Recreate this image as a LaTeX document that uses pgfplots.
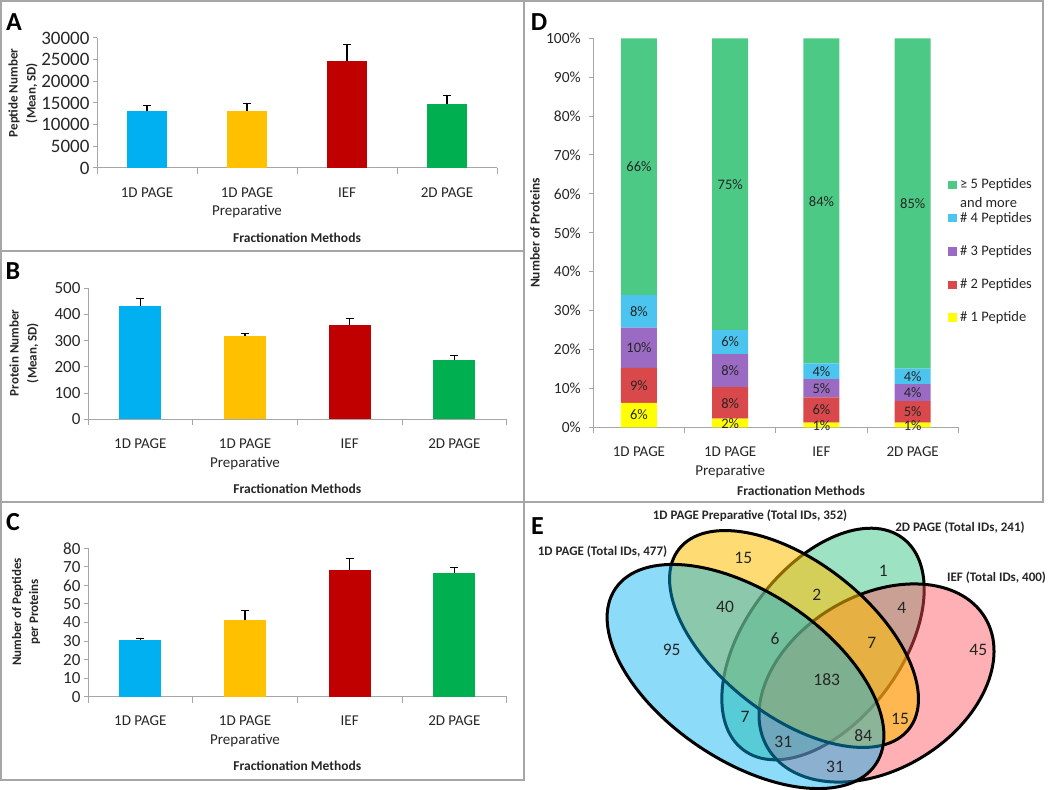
\documentclass[border=0pt]{standalone}
\usepackage{pgfplots}
\pgfplotsset{compat=1.18}
\usepackage{pgfplotstable}
\usepackage{fontspec}
\setmainfont{Carlito}
\definecolor{cblue}{HTML}{00B0F0}
\definecolor{corange}{HTML}{FFC000}
\definecolor{cred}{HTML}{C00000}
\definecolor{cgreen}{HTML}{00B050}
\definecolor{axgray}{HTML}{A6A6A6}
\definecolor{txt}{HTML}{262626}
\definecolor{dgreen}{HTML}{4DC986}
\definecolor{dblue}{HTML}{4BC5F0}
\definecolor{dpurple}{HTML}{9B6BC3}
\definecolor{dred}{HTML}{D9484A}
\definecolor{dyellow}{HTML}{FFFF00}
\definecolor{vblue}{HTML}{00B0F0}
\definecolor{vyellow}{HTML}{FFC000}
\definecolor{vgreen}{HTML}{00B464}
\definecolor{vred}{HTML}{FF505A}
\newcommand{\fs}[1]{\fontsize{#1}{#1}\selectfont}
\newcommand{\fsl}[2]{\fontsize{#1}{#2}\selectfont}
\tikzset{pl/.style={font=\fs{14.5}, text=txt}}

\pgfplotstableread{
x a b c d e
0 6.3 9.0 10.3 8.4 66.0
1 2.2 8.1 8.5 6.2 75.0
2 1.2 6.5 4.7 4.0 83.6
3 1.2 5.5 4.4 4.0 84.9
}\ddata

\pgfplotsset{
  common/.style={
    scale only axis,
    anchor=south west,
    axis x line=bottom, axis y line=left,
    axis line style={-, axgray, line width=1pt},
    xmin=-0.5, xmax=3.5,
    xtick={0,1,2,3},
    xticklabels={1D PAGE, {1D PAGE\\Preparative}, IEF, 2D PAGE},
    major x tick style={draw=none},
    minor xtick={-0.5,0.5,1.5,2.5,3.5},
    minor x tick style={axgray, line width=1pt},
    minor tick length=6pt,
    major tick length=4pt,
    ytick style={axgray, line width=1pt},
    tick align=outside,
    xticklabel style={align=center, font=\fsl{15}{18.5}, text=txt, yshift=-12pt},
    yticklabel style={font=\fs{17}, text=txt},
    /pgf/number format/assume math mode=true,
    /pgf/number format/1000 sep={},
    scaled y ticks=false,
  },
  barpanel/.style={
    common,
    ybar, bar shift=0pt,
    error bars/y dir=plus, error bars/y explicit,
    error bars/error bar style={draw=black, line width=1.1pt},
    error bars/error mark options={rotate=90, mark size=4pt, draw=black, line width=1.1pt},
  }
}

\begin{document}
\begin{tikzpicture}[x=1pt,y=1pt]
\useasboundingbox (0,0) rectangle (1050,790);
% panel borders
\draw[axgray, line width=1.5pt] (1,790-1) rectangle (524,790-251);
\draw[axgray, line width=1.5pt] (1,790-251) rectangle (524,790-502);
\draw[axgray, line width=1.5pt] (1,790-502) rectangle (524,790-780);
\draw[axgray, line width=1.5pt] (524,790-1) rectangle (1043,790-502);

% ---------- Panel A ----------
\begin{axis}[barpanel, at={(97pt,622pt)}, width=400pt, height=130pt, bar width=40pt,
  ymin=0, ymax=30000, ytick={0,5000,...,30000}, yticklabel style={font=\fs{19}}]
\addplot[fill=cblue, draw=none] coordinates {(0,13250) +- (0,1090)};
\addplot[fill=corange, draw=none] coordinates {(1,13190) +- (0,1780)};
\addplot[fill=cred, draw=none] coordinates {(2,24590) +- (0,3860)};
\addplot[fill=cgreen, draw=none] coordinates {(3,14870) +- (0,1850)};
\end{axis}
\node[font=\bfseries\fs{26}] at (14,790-22) {A};
\node[rotate=90, align=center, font=\bfseries\fsl{13}{18}, text=txt] at (23,790-93) {Peptide Number\\(Mean, SD)};
\node[font=\bfseries\fs{13.5}, text=txt] at (297,790-238) {Fractionation Methods};

% ---------- Panel B ----------
\begin{axis}[barpanel, at={(88pt,370.7pt)}, width=418.7pt, height=131pt, bar width=42pt,
  ymin=0, ymax=500, ytick={0,100,...,500}]
\addplot[fill=cblue, draw=none] coordinates {(0,432) +- (0,28)};
\addplot[fill=corange, draw=none] coordinates {(1,318) +- (0,10)};
\addplot[fill=cred, draw=none] coordinates {(2,359) +- (0,25)};
\addplot[fill=cgreen, draw=none] coordinates {(3,226) +- (0,16)};
\end{axis}
\node[font=\bfseries\fs{26}] at (13,790-271) {B};
\node[rotate=90, align=center, font=\bfseries\fsl{13}{18}, text=txt] at (24,790-353) {Protein Number\\(Mean, SD)};
\node[font=\bfseries\fs{13.5}, text=txt] at (297.3,790-489) {Fractionation Methods};

% ---------- Panel C ----------
\begin{axis}[barpanel, at={(88pt,93.3pt)}, width=418.7pt, height=148.4pt, bar width=42pt,
  ymin=0, ymax=80, ytick={0,10,...,80}]
\addplot[fill=cblue, draw=none] coordinates {(0,30.6) +- (0,0.9)};
\addplot[fill=corange, draw=none] coordinates {(1,41.3) +- (0,5.1)};
\addplot[fill=cred, draw=none] coordinates {(2,68.3) +- (0,6.3)};
\addplot[fill=cgreen, draw=none] coordinates {(3,66.7) +- (0,3.1)};
\end{axis}
\node[font=\bfseries\fs{26}] at (13,790-522) {C};
\node[rotate=90, align=center, font=\bfseries\fsl{13}{17}, text=txt] at (26,790-612) {Number of Peptides\\per Proteins};
\node[font=\bfseries\fs{13.5}, text=txt] at (297.3,790-765.7) {Fractionation Methods};

% ---------- Panel D ----------
\begin{axis}[common, at={(593.3pt,362.7pt)}, width=365pt, height=389pt,
  ybar stacked, bar width=36pt,
  ymin=0, ymax=100, ytick={0,10,...,100},
  yticklabel={\pgfmathprintnumber{\tick}\%}, yticklabel style={font=\fs{15.5}, xshift=-5pt}]
\addplot[fill=dyellow, draw=none] table[x=x, y=a] {\ddata};
\addplot[fill=dred, draw=none] table[x=x, y=b] {\ddata};
\addplot[fill=dpurple, draw=none] table[x=x, y=c] {\ddata};
\addplot[fill=dblue, draw=none] table[x=x, y=d] {\ddata};
\addplot[fill=dgreen, draw=none] table[x=x, y=e] {\ddata};
\end{axis}
% value labels of panel D, on an overlay axis with the same geometry
\begin{axis}[scale only axis, anchor=south west, at={(593.3pt,362.7pt)}, width=365pt, height=389pt,
  xmin=-0.5, xmax=3.5, ymin=0, ymax=100, hide axis, clip=false]
\node[pl] at (axis cs:0,3.15) {6\%};
\node[pl] at (axis cs:0,10.8) {9\%};
\node[pl] at (axis cs:0,20.45) {10\%};
\node[pl] at (axis cs:0,29.8) {8\%};
\node[pl] at (axis cs:0,67) {66\%};
\node[pl] at (axis cs:1,0.9) {2\%};
\node[pl] at (axis cs:1,6.1) {8\%};
\node[pl] at (axis cs:1,14.55) {8\%};
\node[pl] at (axis cs:1,21.9) {6\%};
\node[pl] at (axis cs:1,62.5) {75\%};
\node[pl] at (axis cs:2,0.45) {1\%};
\node[pl] at (axis cs:2,4.45) {6\%};
\node[pl] at (axis cs:2,10.05) {5\%};
\node[pl] at (axis cs:2,14.4) {4\%};
\node[pl] at (axis cs:2,58.1) {84\%};
\node[pl] at (axis cs:3,0.45) {1\%};
\node[pl] at (axis cs:3,3.95) {5\%};
\node[pl] at (axis cs:3,8.9) {4\%};
\node[pl] at (axis cs:3,13.1) {4\%};
\node[pl] at (axis cs:3,57.5) {85\%};
\end{axis}
\node[font=\bfseries\fs{26}] at (539,790-22) {D};
\node[rotate=90, font=\bfseries\fs{13.5}, text=txt] at (535,790-233) {Number of Proteins};
\node[font=\bfseries\fs{13.5}, text=txt] at (801,790-490.7) {Fractionation Methods};
% legend D
\fill[dgreen] (948,790-181) rectangle (956.5,790-189.5);
\fill[dblue] (948,790-214) rectangle (956.5,790-222.5);
\fill[dpurple] (948,790-247.5) rectangle (956.5,790-256);
\fill[dred] (948,790-281) rectangle (956.5,790-289.5);
\fill[dyellow] (948,790-313.5) rectangle (956.5,790-322);
\node[pl, anchor=west, inner sep=0pt] at (960,790-185) {≥ 5 Peptides};
\node[pl, anchor=west, inner sep=0pt] at (960,790-202.7) {and more};
\node[pl, anchor=west, inner sep=0pt] at (960,790-218.3) {\# 4 Peptides};
\node[pl, anchor=west, inner sep=0pt] at (960,790-251.7) {\# 3 Peptides};
\node[pl, anchor=west, inner sep=0pt] at (960,790-285) {\# 2 Peptides};
\node[pl, anchor=west, inner sep=0pt] at (960,790-317.7) {\# 1 Peptide};

% ---------- Panel E (Venn) ----------
\begin{axis}[hide axis, scale only axis, anchor=south west, at={(0pt,0pt)},
  width=1050pt, height=790pt, xmin=0, xmax=1050, ymin=0, ymax=790,
  y dir=reverse, clip=false]
\draw[fill=vgreen, fill opacity=0.38, draw=black, line width=3pt, rotate around={53:(axis cs:823,644)}] (axis cs:823,644) ellipse [x radius=132.5, y radius=78];
\draw[fill=vred, fill opacity=0.45, draw=black, line width=3pt, rotate around={31:(axis cs:876.5,683)}] (axis cs:876.5,683) ellipse [x radius=126.7, y radius=87];
\draw[fill=vyellow, fill opacity=0.55, draw=black, line width=3pt, rotate around={-38:(axis cs:794,639)}] (axis cs:794,639) ellipse [x radius=146, y radius=77];
\draw[fill=vblue, fill opacity=0.45, draw=black, line width=3pt, rotate around={-34:(axis cs:745.5,676.5)}] (axis cs:745.5,676.5) ellipse [x radius=157, y radius=84];
\end{axis}
\node[font=\bfseries\fs{26}] at (537.5,790-526) {E};
\node[font=\bfseries\fs{13}, text=txt] at (602.5,790-552) {1D PAGE (Total IDs, 477)};
\node[font=\bfseries\fs{13}, text=txt] at (750,790-515.7) {1D PAGE Preparative (Total IDs, 352)};
\node[font=\bfseries\fs{13}, text=txt] at (960,790-528) {2D PAGE (Total IDs, 241)};
\node[font=\bfseries\fs{13}, text=txt] at (996.5,790-578) {IEF (Total IDs, 400)};
\node[font=\fs{17.5}, text=txt] at (743.3,790-558.3) {15};
\node[font=\fs{17.5}, text=txt] at (883.3,790-571) {1};
\node[font=\fs{17.5}, text=txt] at (816.7,790-595) {2};
\node[font=\fs{17.5}, text=txt] at (901.7,790-607.7) {4};
\node[font=\fs{17.5}, text=txt] at (725,790-606.7) {40};
\node[font=\fs{17.5}, text=txt] at (775,790-638.3) {6};
\node[font=\fs{17.5}, text=txt] at (871.7,790-643.3) {7};
\node[font=\fs{17.5}, text=txt] at (671.7,790-650) {95};
\node[font=\fs{17.5}, text=txt] at (978.3,790-650) {45};
\node[font=\fs{17.5}, text=txt] at (826.7,790-680) {183};
\node[font=\fs{17.5}, text=txt] at (745,790-716.7) {7};
\node[font=\fs{17.5}, text=txt] at (900,790-719) {15};
\node[font=\fs{17.5}, text=txt] at (863.3,790-735.7) {84};
\node[font=\fs{17.5}, text=txt] at (783.3,790-741.7) {31};
\node[font=\fs{17.5}, text=txt] at (835,790-766.7) {31};
\end{tikzpicture}
\end{document}
